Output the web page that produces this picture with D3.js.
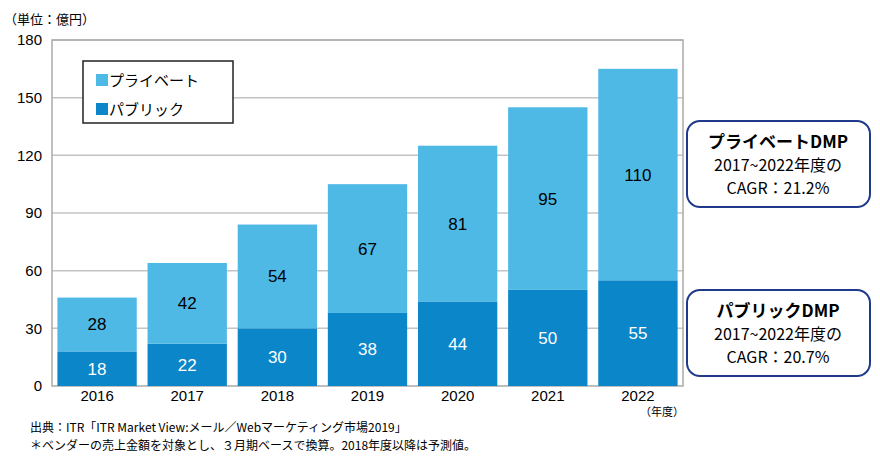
<!DOCTYPE html>
<html><head><meta charset="utf-8">
<script src="https://cdn.jsdelivr.net/npm/d3@7"></script>
<style>body{margin:0;background:#fff;font-family:Arial,"Liberation Sans","Noto Sans CJK JP",sans-serif;}</style>
</head><body><div id="chart_area"></div>
<script>
var data = [
  {year:"2016", pub:18, pri:28},
  {year:"2017", pub:22, pri:42},
  {year:"2018", pub:30, pri:54},
  {year:"2019", pub:38, pri:67},
  {year:"2020", pub:44, pri:81},
  {year:"2021", pub:50, pri:95},
  {year:"2022", pub:55, pri:110}
];
var c_pri = "#4fb9e6", c_pub = "#0a86c9";
var jp = "'Noto Sans CJK JP',sans-serif";

var frame = d3.select("#chart_area").append("svg").attr("width",880).attr("height",463);
var margin = {top:40, left:52, right:197, bottom:77};
var w = 880 - margin.left - margin.right, h = 463 - margin.top - margin.bottom;
var canvas = frame.append("g").attr("transform","translate("+margin.left+","+margin.top+")");

var xScale = d3.scaleBand().domain(data.map(function(d){return d.year;})).range([0,w]).paddingInner(0.12).paddingOuter(0.06);
var yScale = d3.scaleLinear().domain([0,180]).range([h,0]);

// gridlines
canvas.selectAll(".grid").data(d3.range(30,181,30)).enter().append("line")
  .attr("x1",0).attr("x2",w).attr("y1",yScale).attr("y2",yScale)
  .attr("stroke","#c4c4c4").attr("stroke-width",1.5);
canvas.append("rect").attr("width",w).attr("height",h).attr("fill","none").attr("stroke","#aaa").attr("stroke-width",1.5);

var yAxis = d3.axisLeft(yScale).tickValues(d3.range(0,181,30)).tickSize(0).tickPadding(10);
canvas.append("g").call(yAxis).call(function(g){g.select(".domain").remove();})
  .selectAll("text").attr("font-size",15).attr("fill","#000");
var xAxis = d3.axisBottom(xScale).tickSize(0).tickPadding(4);
canvas.append("g").attr("transform","translate(0,"+h+")").call(xAxis).call(function(g){g.select(".domain").remove();})
  .selectAll("text").attr("font-size",15).attr("fill","#000");

var bars = canvas.selectAll(".bar").data(data).enter().append("g");
bars.append("rect").attr("x",function(d){return xScale(d.year);}).attr("width",xScale.bandwidth())
  .attr("y",function(d){return yScale(d.pub);}).attr("height",function(d){return h-yScale(d.pub);}).attr("fill",c_pub);
bars.append("rect").attr("x",function(d){return xScale(d.year);}).attr("width",xScale.bandwidth())
  .attr("y",function(d){return yScale(d.pub+d.pri);}).attr("height",function(d){return yScale(d.pub)-yScale(d.pub+d.pri);}).attr("fill",c_pri);
bars.append("text").attr("x",function(d){return xScale(d.year)+xScale.bandwidth()/2;})
  .attr("y",function(d){return yScale(d.pub/2)+6;}).attr("text-anchor","middle").attr("font-size",17).attr("fill","#fff")
  .text(function(d){return d.pub;});
bars.append("text").attr("x",function(d){return xScale(d.year)+xScale.bandwidth()/2;})
  .attr("y",function(d){return yScale(d.pub+d.pri/2)+6;}).attr("text-anchor","middle").attr("font-size",17).attr("fill","#000")
  .text(function(d){return d.pri;});

// legend
var lg = canvas.append("g").attr("transform","translate(31,21)");
lg.append("rect").attr("width",150).attr("height",62).attr("fill","#fff").attr("stroke","#222").attr("stroke-width",1.5);
[["プライベート",c_pri],["パブリック",c_pub]].forEach(function(s,i){
  lg.append("rect").attr("x",13).attr("y",13+i*29).attr("width",12).attr("height",12).attr("fill",s[1]);
  lg.append("text").attr("x",26).attr("y",25+i*29).attr("font-size",15).attr("font-family",jp).text(s[0]);
});

frame.append("text").attr("x",4).attr("y",24).attr("font-size",13).attr("font-family",jp).text("（単位：億円）");
frame.append("text").attr("x",640).attr("y",416).attr("font-size",11).attr("font-family",jp).text("（年度）");

// callouts
[["プライベートDMP","21.2%",121],["パブリックDMP","20.7%",290]].forEach(function(c){
  var g = frame.append("g").attr("transform","translate(687,"+c[2]+")");
  g.append("rect").attr("width",183).attr("height",86).attr("rx",13).attr("fill","#fff").attr("stroke","#1f3a8a").attr("stroke-width",2);
  g.append("text").attr("x",91).attr("y",27).attr("text-anchor","middle").attr("font-size",17).attr("font-weight","bold").attr("font-family",jp).text(c[0]);
  g.append("text").attr("x",91).attr("y",50).attr("text-anchor","middle").attr("font-size",16).attr("font-family",jp).text("2017~2022年度の");
  g.append("text").attr("x",91).attr("y",73).attr("text-anchor","middle").attr("font-size",16).attr("font-family",jp).text("CAGR：" + c[1]);
});

frame.append("text").attr("x",30).attr("y",432).attr("font-size",12).attr("font-family",jp).text("出典：ITR「ITR Market View:メール／Webマーケティング市場2019」");
frame.append("text").attr("x",30).attr("y",450).attr("font-size",12).attr("font-family",jp).text("＊ベンダーの売上金額を対象とし、３月期ベースで換算。2018年度以降は予測値。");
</script></body></html>
